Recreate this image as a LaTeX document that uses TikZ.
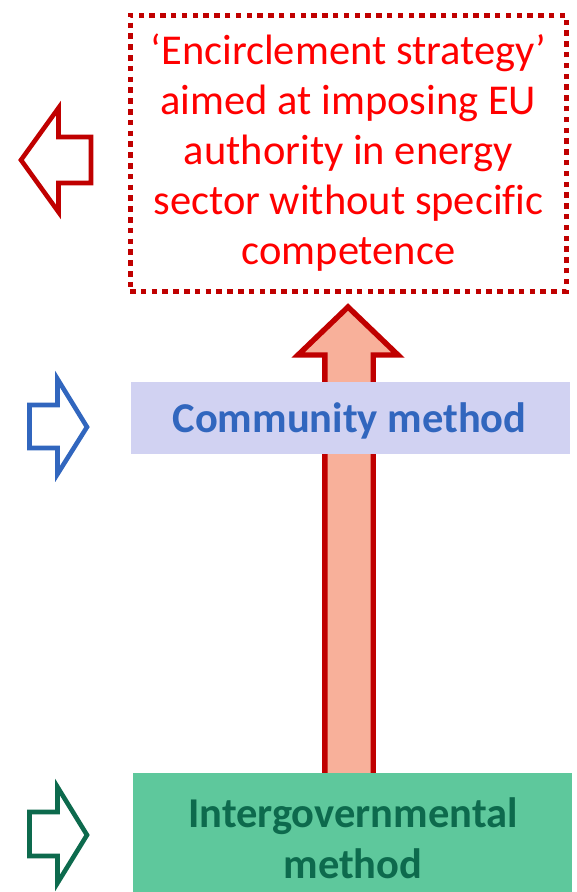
\documentclass[tikz,border=0pt]{standalone}
\usepackage{fontspec}
\setmainfont{Carlito}[Ligatures=CommonOff]
\definecolor{darkred}{HTML}{C00000}
\definecolor{brightred}{HTML}{FF0000}
\definecolor{salmon}{HTML}{F8B09A}
\definecolor{lavender}{HTML}{D1D2F2}
\definecolor{commblue}{HTML}{3166BE}
\definecolor{mintgreen}{HTML}{5EC89C}
\definecolor{deepgreen}{HTML}{0D6A4D}
\tikzset{
  outlinearrow/.style={line width=4.6pt, miter limit=10, fill=white},
  dottedframe/.style={draw=darkred, line width=5pt, dash pattern=on 5.5pt off 5.3pt,
    minimum width=436pt, minimum height=276pt, inner sep=0pt},
  levelbox/.style={inner sep=0pt, draw=none},
  labeltext/.style={font=\fontsize{42.5}{50}\selectfont, align=center, inner sep=0pt},
}
\begin{document}
\begin{tikzpicture}[x=1pt,y=-1pt]
\useasboundingbox (0,0) rectangle (577,892);

% upward shaft linking the two methods to the strategy box
\draw[draw=darkred, fill=salmon, line width=5.4pt, miter limit=10]
  (348,307) -- (398,355) -- (373.2,355) -- (373.2,790) -- (324.8,790)
  -- (324.8,355) -- (298,355) -- cycle;

% strategy box
\node[dottedframe] (goal) at (348,153) {};
\node[labeltext, text=brightred] (goaltext) at (348.5,153)
  {‘Encirclement strategy’\\aimed at imposing EU\\authority in energy\\sector without specific\\competence};

% community method band
\node[levelbox, fill=lavender, minimum width=439pt, minimum height=72pt] (comm) at (350.5,418) {};
\node[labeltext, text=commblue, font=\fontsize{42.5}{50}\selectfont\bfseries, anchor=base] (commtext) at (349.5,432) {Community method};

% intergovernmental method band
\node[levelbox, fill=mintgreen, minimum width=439pt, minimum height=122pt] (inter) at (352.5,834) {};
\node[labeltext, text=deepgreen, font=\fontsize{42.5}{51}\selectfont\bfseries] (intertext) at (353,838) {Intergovernmental\\method};

% side arrows
\draw[outlinearrow, draw=darkred]
  (21,160) -- (58.5,108) -- (58.5,137) -- (91,137) -- (91,183) -- (58.5,183) -- (58.5,212) -- cycle;
\draw[outlinearrow, draw=commblue]
  (87,427) -- (57.5,474) -- (57.5,448) -- (29.5,448) -- (29.5,405) -- (57.5,405) -- (57.5,379) -- cycle;
\draw[outlinearrow, draw=deepgreen]
  (87,835) -- (57.5,883) -- (57.5,856) -- (29.5,856) -- (29.5,812) -- (57.5,812) -- (57.5,787) -- cycle;
\end{tikzpicture}
\end{document}
